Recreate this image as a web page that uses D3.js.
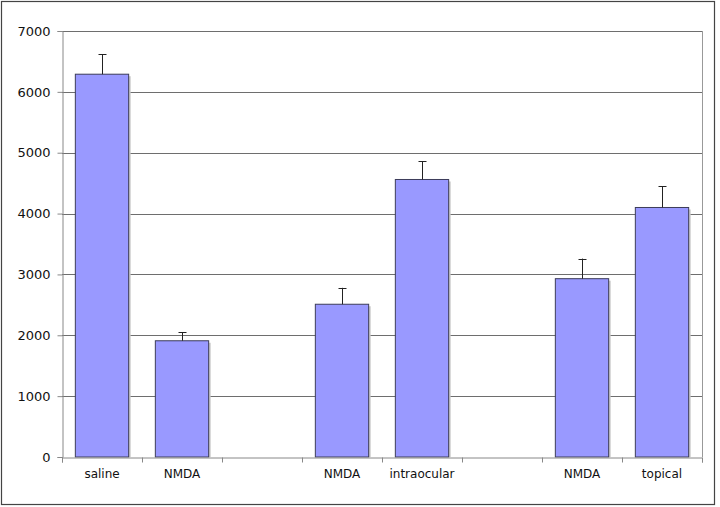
<!DOCTYPE html>
<html>
<head>
<meta charset="utf-8">
<script src="https://cdn.jsdelivr.net/npm/d3@7"></script>
<style>
  body { margin: 0; background: #fff; }
  svg { display: block; font-family: "DejaVu Sans", Verdana, sans-serif; }
</style>
</head>
<body>
<div id="chart"></div>
<script>
// categories, blanks are the gaps between the groups
const categories = ['saline', 'NMDA', '', 'NMDA', 'intraocular', '', 'NMDA', 'topical']
const means = [6290, 1910, null, 2510, 4560, null, 2930, 4100]
const errTops = [6620, 2050, null, 2780, 4860, null, 3260, 4450]
const yTicks = [0, 1000, 2000, 3000, 4000, 5000, 6000, 7000]

const W = 720, H = 507
const plotL = 62, plotR = 702, plotT = 31, plotB = 457

const svg = d3.select('#chart').append('svg')
  .attr('width', W)
  .attr('height', H)

// outer frame
svg.append('rect')
  .attr('x', 1.5).attr('y', 1.5)
  .attr('width', 713).attr('height', 503)
  .attr('fill', 'none')
  .attr('stroke', '#444')
  .attr('stroke-width', 1.2)

const idx = categories.map((d, i) => i)
const x = d3.scaleBand().domain(idx).range([plotL, plotR]).paddingInner(1 / 3).paddingOuter(1 / 6)
const xEdge = d3.scaleLinear().domain([0, categories.length]).range([plotL, plotR])
const y = d3.scaleLinear().domain([0, 7000]).range([plotB, plotT])

// gridlines
svg.append('g')
  .selectAll('line')
  .data(yTicks.filter(d => d > 0))
  .join('line')
  .attr('x1', plotL).attr('x2', plotR)
  .attr('y1', d => Math.round(y(d)) + 0.5)
  .attr('y2', d => Math.round(y(d)) + 0.5)
  .attr('stroke', '#6e6e6e')
  .attr('stroke-width', 1)

// right edge of plot area
svg.append('line')
  .attr('x1', plotR + 0.5).attr('x2', plotR + 0.5)
  .attr('y1', plotT).attr('y2', plotB)
  .attr('stroke', '#999')

const rows = idx.filter(i => means[i] != null)

// bar shadows
svg.append('g')
  .selectAll('rect')
  .data(rows)
  .join('rect')
  .attr('x', i => x(i) + 2)
  .attr('y', i => y(means[i]) + 2)
  .attr('width', x.bandwidth())
  .attr('height', i => plotB - y(means[i]) - 2)
  .attr('fill', '#c8c8c8')

// bars
svg.append('g')
  .selectAll('rect')
  .data(rows)
  .join('rect')
  .attr('x', i => x(i))
  .attr('y', i => y(means[i]))
  .attr('width', x.bandwidth())
  .attr('height', i => plotB - y(means[i]))
  .attr('fill', '#9999ff')
  .attr('stroke', '#3c3c5a')
  .attr('stroke-width', 1)

// error bars (upper only)
const err = svg.append('g').attr('stroke', '#222').attr('stroke-width', 1)
err.selectAll('line.stem')
  .data(rows)
  .join('line')
  .attr('class', 'stem')
  .attr('x1', i => Math.round(x(i) + x.bandwidth() / 2) + 0.5)
  .attr('x2', i => Math.round(x(i) + x.bandwidth() / 2) + 0.5)
  .attr('y1', i => y(means[i]))
  .attr('y2', i => y(errTops[i]))
err.selectAll('line.cap')
  .data(rows)
  .join('line')
  .attr('class', 'cap')
  .attr('x1', i => Math.round(x(i) + x.bandwidth() / 2) - 3.5)
  .attr('x2', i => Math.round(x(i) + x.bandwidth() / 2) + 4.5)
  .attr('y1', i => Math.round(y(errTops[i])) + 0.5)
  .attr('y2', i => Math.round(y(errTops[i])) + 0.5)

// y axis
const yAxis = svg.append('g')
  .attr('transform', `translate(${plotL + 0.5},0)`)
  .call(d3.axisLeft(y).tickValues(yTicks).tickSize(5).tickPadding(7).tickFormat(d3.format('d')))
yAxis.select('.domain').attr('stroke', '#888')
yAxis.selectAll('.tick line').attr('stroke', '#888')
yAxis.selectAll('text').attr('font-size', 13).attr('fill', '#111').attr('font-family', 'DejaVu Sans')

// x axis: ticks at band edges
const xAxis = svg.append('g')
  .attr('transform', `translate(0,${plotB + 0.5})`)
  .call(d3.axisBottom(xEdge).ticks(categories.length).tickSize(5).tickFormat(''))
xAxis.select('.domain').attr('stroke', '#888')
xAxis.selectAll('.tick line').attr('stroke', '#888')

// category labels
const xLab = svg.append('g')
  .attr('transform', `translate(0,${plotB})`)
  .call(d3.axisBottom(x).tickSize(0).tickPadding(12).tickFormat(i => categories[i]))
xLab.select('.domain').remove()
xLab.selectAll('text').attr('font-size', 12).attr('fill', '#111').attr('font-family', 'DejaVu Sans')
</script>
</body>
</html>
